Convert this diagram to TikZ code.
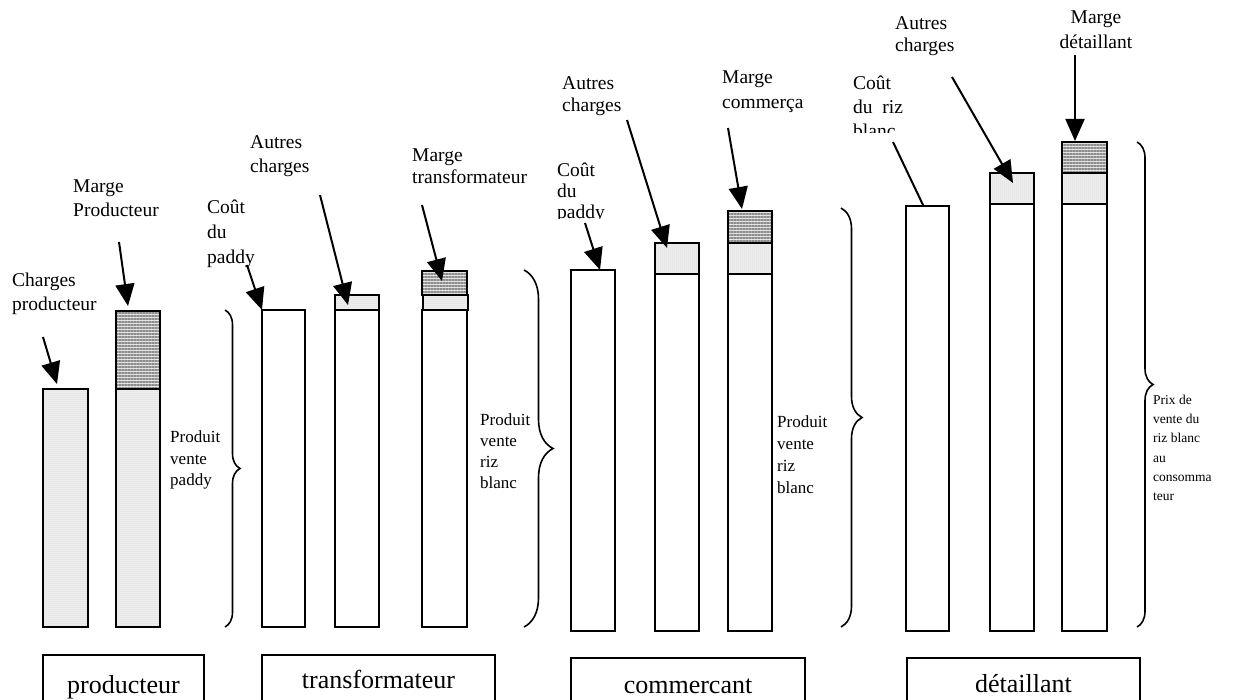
\documentclass[tikz,border=0pt]{standalone}
\usepackage{fontspec}
\setmainfont{Liberation Serif}
\usetikzlibrary{arrows.meta,fit,patterns.meta,decorations.pathreplacing}
\begin{document}
\begin{tikzpicture}[x=1pt,y=-1pt,
  seg/.style={draw, line width=2pt, inner sep=0pt, outer sep=0pt},
  plainbar/.style={seg, fill=white},
  stip/.style={seg, preaction={fill=gray!10}, pattern={Dots[radius=0.5pt,distance=2pt]}, pattern color=gray!50},
  hatch/.style={seg, preaction={fill=gray!22}, pattern={Lines[angle=0,distance=3pt,line width=1.3pt]}, pattern color=black!45},
  lab/.style={anchor=north west, inner sep=0pt, align=left, font=\fontsize{19.5}{24}\selectfont},
  small/.style={anchor=north west, inner sep=0pt, align=left, font=\fontsize{17}{21.5}\selectfont},
  tiny/.style={anchor=north west, inner sep=0pt, align=left, font=\fontsize{13.5}{19.2}\selectfont},
  ptr/.style={line width=2pt, -{Triangle[length=22pt,width=19pt]}},
  ptrline/.style={line width=2pt},
  brc/.style={line width=1.6pt, decorate, decoration={brace, amplitude=#1}},
  actor/.style={draw, line width=1.3pt, inner sep=0pt, outer sep=0pt},
  actlab/.style={font=\fontsize{26}{30}\selectfont, anchor=base, inner sep=0pt}
]
\clip (0,0) rectangle (1238,700);
\fill[white] (0,0) rectangle (1238,700);

% ---------------- producteur ----------------
\node[stip,  fit={(43,389) (88,627)}] (p1) {};
\node[stip,  fit={(116,389) (160,627)}] (p2a) {};
\node[hatch, fit={(116,311) (160,389)}] (p2b) {};

\node[lab] (lchp) at (12,273) {Charges\\producteur};
\node[lab] (lmp) at (73,180) {Marge\\Producteur};
\coordinate (a1s) at (43,337);  \coordinate (a1e) at (57,384);
\coordinate (a2s) at (119,242); \coordinate (a2e) at (128,306);
\draw[ptr] (a1s) -- (a1e);
\draw[ptr] (a2s) -- (a2e);

\coordinate (b1t) at (225,310); \coordinate (b1b) at (225,627);
\draw[brc=15pt] (b1t) -- (b1b);
\node[small] (lpvp) at (170,431) {Produit\\vente\\paddy};

% ---------------- transformateur ----------------
\node[plainbar, fit={(262,310) (305,627)}] (t1) {};
\node[plainbar, fit={(335,310) (379,627)}] (t2a) {};
\node[stip,     fit={(335,295) (379,310)}] (t2b) {};
\node[plainbar, fit={(422,310) (467,627)}] (t3a) {};
\node[stip,     fit={(423,295) (468,310)}] (t3b) {};
\node[hatch,    fit={(422,271) (467,295)}] (t3c) {};

\node[lab, font=\fontsize{19.5}{25}\selectfont] (ltc) at (207,200) {Coût\\du\\paddy};
\node[lab] (lta) at (250,135) {Autres\\charges};
\node[lab, font=\fontsize{19.5}{22}\selectfont] (ltm) at (412,149) {Marge\\transformateur};
\coordinate (t1s) at (247,265); \coordinate (t1e) at (262,310);
\coordinate (t2s) at (320,195); \coordinate (t2e) at (348,305);
\coordinate (t3s) at (422,205); \coordinate (t3e) at (442,281);
\draw[ptr] (t1s) -- (t1e);
\draw[ptr] (t2s) -- (t2e);
\draw[ptr] (t3s) -- (t3e);

\coordinate (b2t) at (524,270); \coordinate (b2b) at (524,627);
\draw[brc=29pt] (b2t) -- (b2b);
\node[small, font=\fontsize{17}{21}\selectfont] (ltpv) at (480,414) {Produit\\vente\\riz\\blanc};

% ---------------- commercant ----------------
\node[plainbar, fit={(571,270) (615,631)}] (c1) {};
\node[plainbar, fit={(655,274) (699,631)}] (c2a) {};
\node[stip,     fit={(655,243) (699,274)}] (c2b) {};
\node[plainbar, fit={(728,274) (772,631)}] (c3a) {};
\node[stip,     fit={(728,243) (772,274)}] (c3b) {};
\node[hatch,    fit={(728,211) (772,243)}] (c3c) {};

\begin{scope}
  \clip (540,140) rectangle (650,219);
  \node[lab, font=\fontsize{19.5}{21}\selectfont] (lcc) at (557,163) {Coût\\du\\paddy};
\end{scope}
\node[lab, font=\fontsize{19.5}{22}\selectfont] (lca) at (562,76) {Autres\\charges};
\begin{scope}
  \clip (700,40) rectangle (803,130);
  \node[lab, font=\fontsize{19.5}{25}\selectfont] (lcm) at (722,71) {Marge\\commerçan};
\end{scope}
\coordinate (c1s) at (585,223); \coordinate (c1e) at (600,270);
\coordinate (c2s) at (627,120); \coordinate (c2e) at (667,248);
\coordinate (c3s) at (728,128); \coordinate (c3e) at (742,209);
\draw[ptr] (c1s) -- (c1e);
\draw[ptr] (c2s) -- (c2e);
\draw[ptr] (c3s) -- (c3e);

\coordinate (b3t) at (841,208); \coordinate (b3b) at (841,627);
\draw[brc=21pt] (b3t) -- (b3b);
\node[small, font=\fontsize{17}{22}\selectfont] (lcpv) at (777,416) {Produit\\vente\\riz\\blanc};

% ---------------- detaillant ----------------
\node[plainbar, fit={(906,206) (949,631)}] (d1) {};
\node[plainbar, fit={(990,204) (1034,631)}] (d2a) {};
\node[stip,     fit={(990,173) (1034,204)}] (d2b) {};
\node[plainbar, fit={(1062,204) (1107,631)}] (d3a) {};
\node[stip,     fit={(1062,173) (1107,204)}] (d3b) {};
\node[hatch,    fit={(1062,142) (1107,173)}] (d3c) {};

\begin{scope}
  \clip (840,50) rectangle (905,133);
  \node[lab, font=\fontsize{19.5}{24}\selectfont] (ldc) at (853,76) {Coût\\du\ \ riz\\blanc};
\end{scope}
\node[lab, font=\fontsize{19.5}{22}\selectfont] (lda) at (895,16) {Autres\\charges};
\node[lab, anchor=north, align=center, font=\fontsize{19.5}{25}\selectfont] (ldm) at (1096,11) {Marge\\détaillant};
\coordinate (d1s) at (893,142); \coordinate (d1e) at (923,205);
\coordinate (d2s) at (952,77);  \coordinate (d2e) at (1013,183);
\coordinate (d3s) at (1075,55); \coordinate (d3e) at (1075,141);
\draw[ptrline] (d1s) -- (d1e);
\draw[ptr] (d2s) -- (d2e);
\draw[ptr] (d3s) -- (d3e);

\coordinate (b4t) at (1137,142); \coordinate (b4b) at (1137,627);
\draw[brc=16pt] (b4t) -- (b4b);
\node[tiny] (lprix) at (1153,395) {Prix de\\vente du\\riz blanc\\au\\consomma\\teur};

% ---------------- actor boxes ----------------
\node[actor, fit={(43,655) (204,730)}] (bp) {};
\node[actor, fit={(262,655) (495,730)}] (bt) {};
\node[actor, fit={(571,658) (805,730)}] (bc) {};
\node[actor, fit={(907,658) (1140,730)}] (bd) {};
\node[actlab] (tp) at (123.5,693) {producteur};
\node[actlab] (tt) at (378.5,688) {transformateur};
\node[actlab] (tc) at (688,693) {commercant};
\node[actlab] (td) at (1023.5,692) {détaillant};
\end{tikzpicture}
\end{document}
